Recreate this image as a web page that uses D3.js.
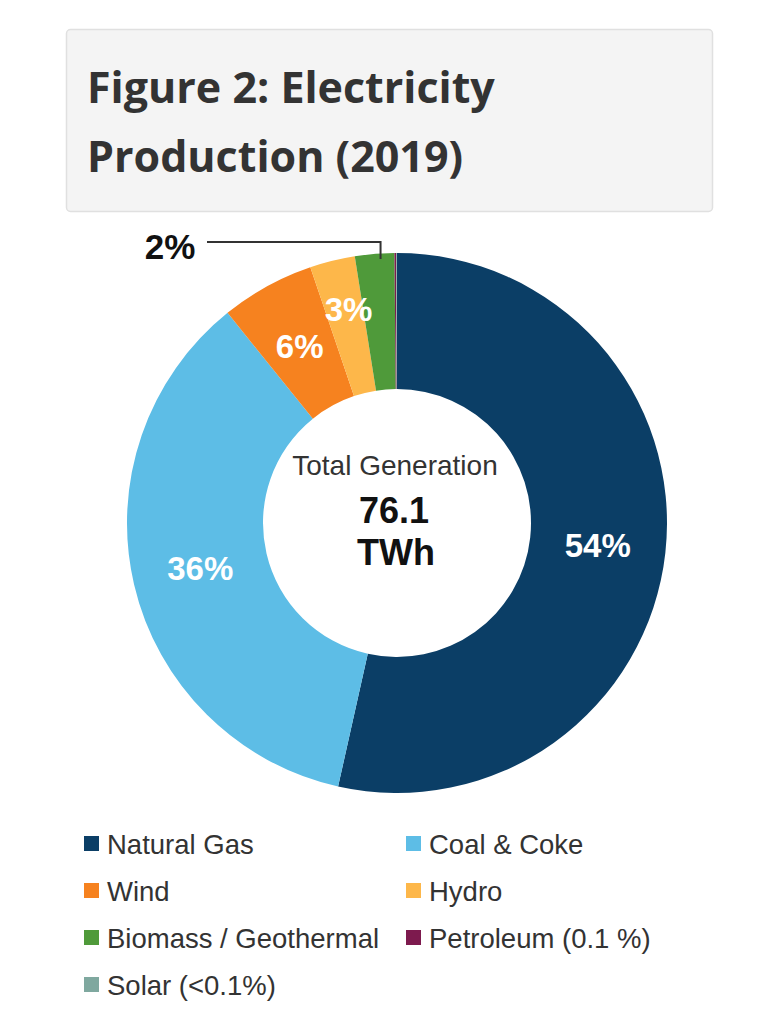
<!DOCTYPE html>
<html><head><meta charset="utf-8">
<script src="https://cdn.jsdelivr.net/npm/d3@7"></script>
<style>
html,body{margin:0;padding:0;background:#fff;}
svg{display:block;}
</style></head>
<body>
<svg id="chart" width="779" height="1024"></svg>
<script>
const titleLines = ["Figure 2: Electricity", "Production (2019)"];
const categories = ["Natural Gas", "Coal & Coke", "Wind", "Hydro", "Biomass / Geothermal", "Petroleum (0.1 %)", "Solar (<0.1%)"];
const shares = [53.5, 35.7, 5.6, 2.7, 2.35, 0.1, 0.05];
const colors = ["#0b3e66", "#5dbde6", "#f6821f", "#fdb74a", "#4f9a3a", "#7d1a4e", "#7fa89f"];
const sliceLabels = ["54%", "36%", "6%", "3%", "", "", ""];
const calloutLabel = "2%";
const centerLines = ["Total Generation", "76.1", "TWh"];

const svg = d3.select("#chart");

// Title box
svg.append("rect").attr("x", 66.5).attr("y", 29.5).attr("width", 646).attr("height", 182)
  .attr("rx", 4).attr("fill", "#f4f4f4").attr("stroke", "#e0e0e0").attr("stroke-width", 1.5);
svg.selectAll("text.title").data(titleLines).join("text").attr("class", "title")
  .attr("x", 87).attr("y", (d, i) => 103 + i * 69)
  .attr("font-family", "'Open Sans', sans-serif").attr("font-weight", 700)
  .attr("font-size", 43).attr("fill", "#333").text(d => d);

// Donut
const cx = 397, cy = 523, rOuter = 270, rInner = 134;
const g = svg.append("g").attr("transform", `translate(${cx},${cy})`);
const pie = d3.pie().sort(null).value(d => d)(shares);
const arc = d3.arc().innerRadius(rInner).outerRadius(rOuter);
g.selectAll("path").data(pie).join("path").attr("d", arc).attr("fill", (d, i) => colors[i]);

const labelOffsets = [[0, 0], [0, 0], [0, 0], [0, -17], [0, 0], [0, 0], [0, 0]];
g.selectAll("text.pct").data(pie).join("text").attr("class", "pct")
  .attr("x", (d, i) => arc.centroid(d)[0] + labelOffsets[i][0])
  .attr("y", (d, i) => arc.centroid(d)[1] + labelOffsets[i][1])
  .attr("text-anchor", "middle").attr("dominant-baseline", "central")
  .attr("font-family", "'Liberation Sans', Arial, sans-serif").attr("font-weight", 700)
  .attr("font-size", 33).attr("fill", "#fff")
  .text((d, i) => sliceLabels[i]);

// Callout for biomass
const bio = pie[4];
const bioAngle = (bio.startAngle + bio.endAngle) / 2;
const bx = rOuter * Math.sin(bioAngle) + 6, by = -rOuter * Math.cos(bioAngle);
const lineY = -281;
g.append("path").attr("d", `M${-190},${lineY}H${bx}V${by + 5}`)
  .attr("fill", "none").attr("stroke", "#333").attr("stroke-width", 2);
g.append("text").attr("x", -227).attr("y", -264)
  .attr("text-anchor", "middle")
  .attr("font-family", "'Liberation Sans', Arial, sans-serif").attr("font-weight", 700)
  .attr("font-size", 35).attr("fill", "#111").text(calloutLabel);

// Center text
g.append("text").attr("x", -2).attr("y", -48).attr("text-anchor", "middle")
  .attr("font-family", "'Liberation Sans', Arial, sans-serif").attr("font-size", 28)
  .attr("fill", "#333").text(centerLines[0]);
g.append("text").attr("x", -3).attr("y", 0).attr("text-anchor", "middle")
  .attr("font-family", "'Liberation Sans', Arial, sans-serif").attr("font-weight", 700)
  .attr("font-size", 36).attr("fill", "#111").text(centerLines[1]);
g.append("text").attr("x", -1).attr("y", 42).attr("text-anchor", "middle")
  .attr("font-family", "'Liberation Sans', Arial, sans-serif").attr("font-weight", 700)
  .attr("font-size", 36).attr("fill", "#111").text(centerLines[2]);

// Legend
const legend = svg.append("g");
const items = legend.selectAll("g").data(categories).join("g")
  .attr("transform", (d, i) => `translate(${i % 2 === 0 ? 84 : 406},${844 + Math.floor(i / 2) * 47})`);
items.append("rect").attr("x", 0).attr("y", -8).attr("width", 15).attr("height", 15)
  .attr("fill", (d, i) => colors[i]);
items.append("text").attr("x", 23).attr("y", 0).attr("dominant-baseline", "central")
  .attr("font-family", "'Liberation Sans', Arial, sans-serif").attr("font-size", 27.5)
  .attr("fill", "#333").text(d => d);
</script>
</body></html>
